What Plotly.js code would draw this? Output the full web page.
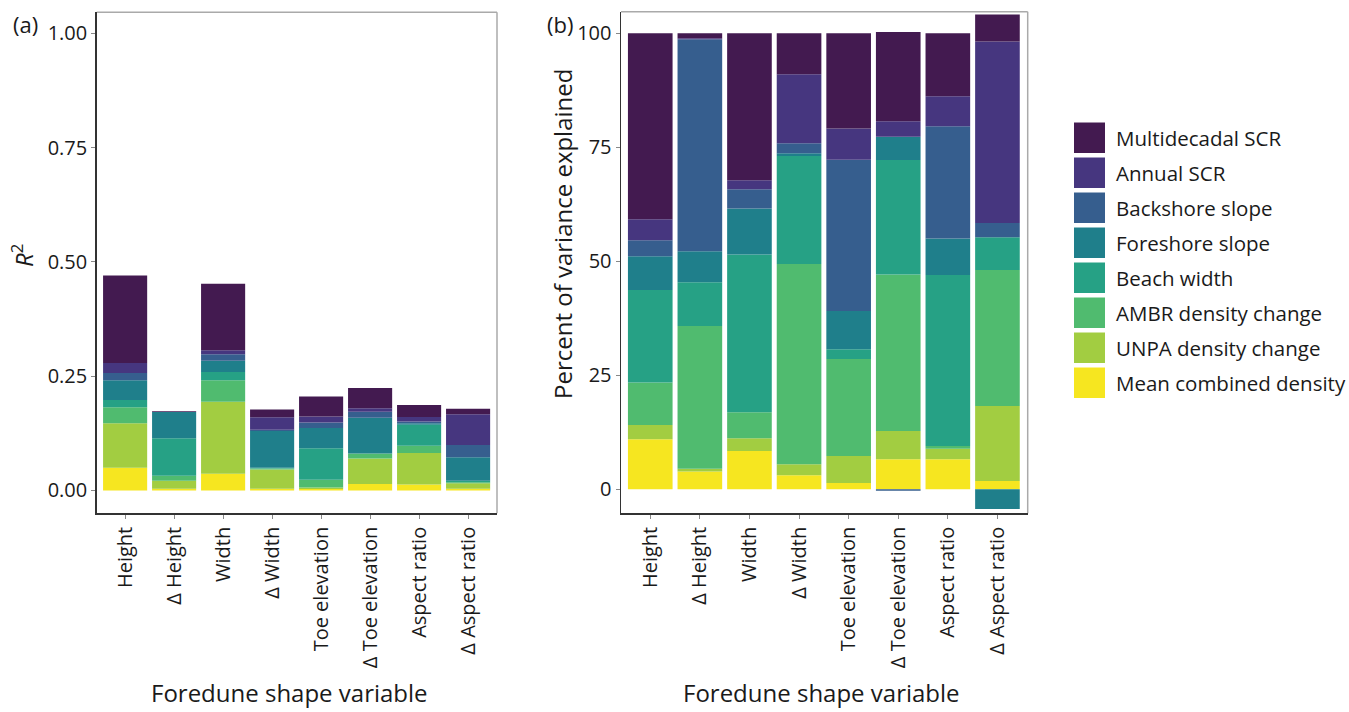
<!DOCTYPE html>
<html>
<head>
<meta charset="utf-8">
<script src="https://cdn.plot.ly/plotly-3.0.1.min.js"></script>
<style>
html,body{margin:0;padding:0;background:#fff;}
#chart{width:1349px;height:712px;}
</style>
</head>
<body>
<div id="chart"></div>
<script>
// ---------- DATA ----------
const categories = ['Height', 'Δ Height', 'Width', 'Δ Width', 'Toe elevation', 'Δ Toe elevation', 'Aspect ratio', 'Δ Aspect ratio'];

// stacking order: bottom -> top
const seriesNames = ['Mean combined density', 'UNPA density change', 'AMBR density change', 'Beach width', 'Foreshore slope', 'Backshore slope', 'Annual SCR', 'Multidecadal SCR'];

// Panel (a): R² contributions
const r2MeanCombined = [0.050, 0.004, 0.0365, 0.004, 0.003, 0.014, 0.013, 0.004];
const r2Unpa         = [0.097, 0.0175, 0.1575, 0.042, 0.0035, 0.056, 0.069, 0.012];
const r2Ambr         = [0.035, 0.011, 0.047, 0.002, 0.017, 0.011, 0.016, 0.002];
const r2BeachWidth   = [0.016, 0.082, 0.018, 0.002, 0.069, 0.000, 0.046, 0.0035];
const r2Foreshore    = [0.043, 0.057, 0.025, 0.080, 0.044, 0.078, 0.003, 0.051];
const r2Backshore    = [0.016, 0.000, 0.014, 0.003, 0.012, 0.013, 0.004, 0.027];
const r2Annual       = [0.022, 0.000, 0.009, 0.027, 0.0135, 0.008, 0.010, 0.0675];
const r2Multidecadal = [0.191, 0.002, 0.145, 0.017, 0.0435, 0.044, 0.026, 0.012];

// Panel (b): percent of variance explained
const pctMeanCombined = [11.0, 3.9, 8.4, 3.1, 1.4, 6.6, 6.6, 1.8];
const pctUnpa         = [3.1, 0.6, 2.8, 2.4, 5.9, 6.2, 2.3, 16.45];
const pctAmbr         = [9.3, 31.3, 5.7, 43.9, 21.3, 34.3, 0.6, 29.85];
const pctBeachWidth   = [20.3, 9.6, 34.6, 23.7, 2.1, 25.1, 37.5, 7.2];
const pctForeshore    = [7.4, 6.8, 10.1, 0.6, 8.4, 5.1, 8.0, -4.3];
const pctBackshore    = [3.5, 46.5, 4.2, 2.2, 33.2, -0.3, 24.6, 3.1];
const pctAnnual       = [4.6, 0.2, 2.0, 15.1, 6.8, 3.4, 6.6, 39.8];
const pctMultidecadal = [40.8, 1.1, 32.2, 9.0, 20.9, 19.6, 13.8, 5.9];

const r2Series  = [r2MeanCombined, r2Unpa, r2Ambr, r2BeachWidth, r2Foreshore, r2Backshore, r2Annual, r2Multidecadal];
const pctSeries = [pctMeanCombined, pctUnpa, pctAmbr, pctBeachWidth, pctForeshore, pctBackshore, pctAnnual, pctMultidecadal];

const r2TickVals  = [0, 0.25, 0.5, 0.75, 1.0];
const r2TickText  = ['0.00', '0.25', '0.50', '0.75', '1.00'];
const pctTickVals = [0, 25, 50, 75, 100];

const xTitleText  = 'Foredune shape variable';
const yTitleA     = '<i>R</i><sup>2</sup>';
const yTitleB     = 'Percent of variance explained';

// ---------- STYLE ----------
const seriesColors = ['#F6E620', '#A2CD41', '#50BB6F', '#26A185', '#1F7F8B', '#365E8E', '#46367F', '#431A50'];
const FONT = '"Open Sans", "Noto Sans", sans-serif';
const TXT = '#1a1a1a';
const W = 1349, H = 712;
const px = v => v / W;
const py = v => 1 - v / H;

const traces = [];
seriesNames.forEach((name, i) => {
  traces.push({
    type: 'bar', name: name, x: categories, y: r2Series[i],
    xaxis: 'x', yaxis: 'y', showlegend: false,
    marker: {color: seriesColors[i], line: {width: 0}},
    hovertemplate: '%{x}<br>' + name + ': %{y}<extra></extra>'
  });
  traces.push({
    type: 'bar', name: name, x: categories, y: pctSeries[i],
    xaxis: 'x2', yaxis: 'y2', showlegend: false,
    marker: {color: seriesColors[i], line: {width: 0}},
    hovertemplate: '%{x}<br>' + name + ': %{y}<extra></extra>'
  });
});

const tickFont = {family: FONT, size: 20, color: TXT};
const titleFont = {family: FONT, size: 24, color: TXT};

const xBase = {
  type: 'category', showgrid: false, zeroline: false,
  showline: true, linecolor: '#333', linewidth: 1.5,
  ticks: 'outside', ticklen: 4, tickcolor: '#888', tickwidth: 1,
  tickangle: -90, tickfont: tickFont, automargin: false
};
const yBase = {
  showgrid: false, zeroline: false,
  showline: true, linecolor: '#333', linewidth: 1.5,
  ticks: 'outside', ticklen: 4, tickcolor: '#888', tickwidth: 1,
  tickfont: tickFont, automargin: false
};

const shapes = [];
// top and right frame lines for both panels
[['x', 'y'], ['x2', 'y2']].forEach(([xa, ya]) => {
  shapes.push({type: 'line', xref: xa + ' domain', yref: ya + ' domain', x0: 0, x1: 1, y0: 1, y1: 1, line: {color: '#aaa', width: 1.5}, layer: 'below'});
  shapes.push({type: 'line', xref: xa + ' domain', yref: ya + ' domain', x0: 1, x1: 1, y0: 0, y1: 1, line: {color: '#aaa', width: 1.5}, layer: 'below'});
});

// custom legend (top -> bottom = reverse stacking order)
const annotations = [];
for (let k = 0; k < seriesNames.length; k++) {
  const i = seriesNames.length - 1 - k;
  const top = 122.5 + 35 * k;
  shapes.push({
    type: 'rect', xref: 'paper', yref: 'paper',
    x0: px(1074), x1: px(1105), y0: py(top + 30.5), y1: py(top),
    fillcolor: seriesColors[i], line: {width: 0}
  });
  annotations.push({
    xref: 'paper', yref: 'paper', x: px(1114), y: py(top + 15.5),
    xanchor: 'left', yanchor: 'middle', showarrow: false,
    text: seriesNames[i], font: {family: FONT, size: 20.5, color: TXT}
  });
}
// panel tags
annotations.push({xref: 'paper', yref: 'paper', x: px(11), y: py(24), xanchor: 'left', yanchor: 'middle', showarrow: false, text: '(a)', font: {family: FONT, size: 22, color: TXT}});
annotations.push({xref: 'paper', yref: 'paper', x: px(545), y: py(24), xanchor: 'left', yanchor: 'middle', showarrow: false, text: '(b)', font: {family: FONT, size: 22, color: TXT}});
// axis titles
annotations.push({xref: 'paper', yref: 'paper', x: px(289), y: py(710), xanchor: 'center', yanchor: 'bottom', showarrow: false, borderpad: 0, text: xTitleText, font: titleFont});
annotations.push({xref: 'paper', yref: 'paper', x: px(822), y: py(710), xanchor: 'center', yanchor: 'bottom', showarrow: false, borderpad: 0, text: xTitleText, font: titleFont});
annotations.push({xref: 'paper', yref: 'paper', x: px(22), y: py(256), xanchor: 'center', yanchor: 'middle', showarrow: false, textangle: -90, text: yTitleA, font: titleFont});
annotations.push({xref: 'paper', yref: 'paper', x: px(563), y: py(234), xanchor: 'center', yanchor: 'middle', showarrow: false, textangle: -90, text: yTitleB, font: titleFont});

const layout = {
  width: W, height: H,
  margin: {l: 0, r: 0, t: 0, b: 0},
  paper_bgcolor: '#fff', plot_bgcolor: '#fff',
  barmode: 'relative', bargap: 0.1,
  showlegend: false,
  font: {family: FONT, color: TXT},
  xaxis: Object.assign({}, xBase, {domain: [px(96.7), px(497)], range: [-0.58, 7.59], anchor: 'y'}),
  yaxis: Object.assign({}, yBase, {
    domain: [py(513.3), py(12.3)], range: [-0.0499, 1.046], anchor: 'x',
    tickvals: r2TickVals, ticktext: r2TickText
  }),
  xaxis2: Object.assign({}, xBase, {domain: [px(621), px(1027.7)], range: [-0.59, 7.61], anchor: 'y2'}),
  yaxis2: Object.assign({}, yBase, {
    domain: [py(513.3), py(11.7)], range: [-5.26, 104.74], anchor: 'x2',
    tickvals: pctTickVals
  }),
  shapes: shapes,
  annotations: annotations
};

Plotly.newPlot('chart', traces, layout, {displayModeBar: false, staticPlot: true});
</script>
</body>
</html>
